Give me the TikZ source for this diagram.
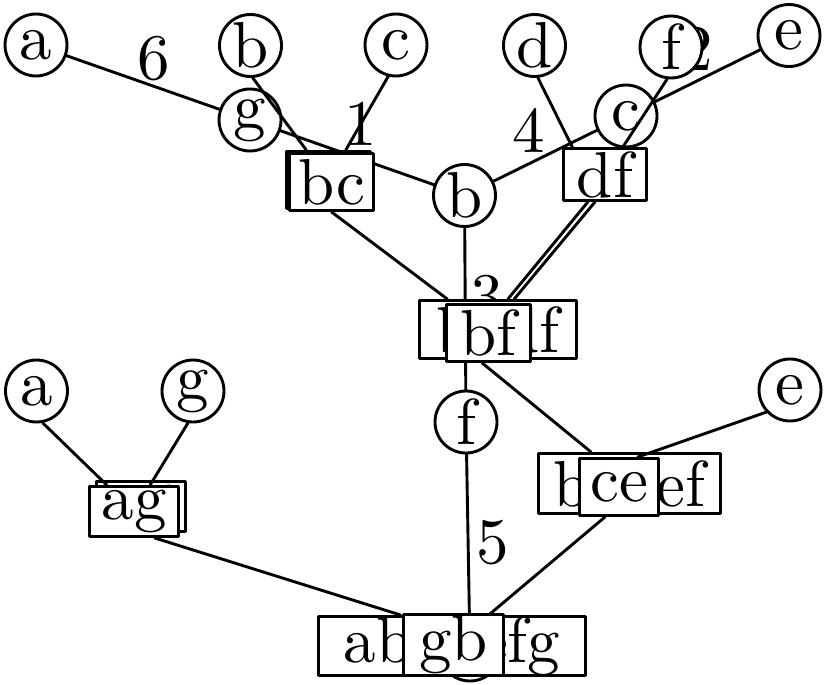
\documentclass[tikz,border=0pt]{standalone}
\usepackage{fontspec}
\setmainfont{lmroman10-regular.otf}
\newcommand{\treefont}{\fontsize{65}{78}\selectfont}
\begin{document}
\begin{tikzpicture}[x=1pt, y=-1pt, line cap=round, line join=round, line width=2.9pt]

			\tikzset{
				vtx/.style={circle, draw, fill=white, minimum size=62pt, inner sep=0pt, font=\treefont},
				bag/.style={rectangle, draw, fill=white, inner sep=0pt, font=\treefont},
				wt/.style={inner sep=0pt, font=\treefont},
			}

			\useasboundingbox (0,0) rectangle (827,685);

			% --- Back: weighted graph
			\node[vtx] (a1) at (36,45) {a};
			\node[vtx] (e1) at (789,35.5) {e};
			\node[vtx] (g1) at (250,120) {g};
			\node[vtx] (c2) at (626,116) {c};
			\node[vtx] (b2) at (464.5,195.5) {b};
			\node[vtx] (f3) at (466,422) {f};
			\node[vtx] (x4) at (470,650) {};

			\draw (a1) -- (g1);
			\draw (g1) -- (b2);
			\draw (b2) -- (c2);
			\draw (c2) -- (e1);
			\draw (b2) -- (f3);
			\draw (f3) -- (x4);

			\node[wt] (w6) at (153.5,58.5) {6};
			\node[wt] (w1) at (361,124) {1};
			\node[wt] (w4) at (529,130) {4};
			\node[wt] (w2) at (697,49) {2};
			\node[wt] (w3) at (487,298) {3};
			\node[wt] (w5) at (493,543) {5};

			% --- Front: leaves
			\node[vtx] (b1) at (250.5,45.5) {b};
			\node[vtx] (c1) at (396,45) {c};
			\node[vtx] (d1) at (534.5,45.5) {d};
			\node[vtx] (f1) at (671,47) {f};
			\node[vtx] (a3) at (36.5,391) {a};
			\node[vtx] (g3) at (193,391) {g};
			\node[vtx] (e3) at (790,390) {e};

			% --- Front: bags (back copy first, then front copy)
			\node[bag, minimum width=84pt, minimum height=57pt] (bcA) at (328.5,180) {bc};
			\node[bag, minimum width=84pt, minimum height=57pt] (bcB) at (331.5,182) {bc};
			\node[bag, minimum width=83pt, minimum height=52pt] (df) at (605,174.5) {df};
			\node[bag, minimum width=157pt, minimum height=58pt] (bcdf) at (498,329.5) {bcdf};
			\node[bag, minimum width=84pt, minimum height=57pt] (bf) at (488.5,333) {bf};
			\node[bag, minimum width=182pt, minimum height=60pt] (bcdef) at (629.5,483.5) {bcdef};
			\node[bag, minimum width=79pt, minimum height=57pt] (ce) at (619,487) {ce};
			\node[bag, minimum width=89pt, minimum height=50pt] (agB) at (141,506.5) {ag};
			\node[bag, minimum width=89pt, minimum height=50pt] (agA) at (134,511.5) {ag};
			\node[bag, minimum width=267pt, minimum height=59pt] (abcdefg) at (452,646) {abcdefg};
			\node[bag, minimum width=100pt, minimum height=61pt] (gb) at (453.5,645) {gb};

			% --- Front: tree links
			\draw (b1.274) -- (bcA);
			\draw (c1.256) -- (bcA);
			\draw (d1.276) -- (df.140);
			\draw (f1.263) -- (df);
			\draw (bcB.south) -- (bcdf.149);
			\draw (df.238) -- (bcdf.72);
			\draw (df.250) -- (bcdf.62);
			\draw (bf.258) -- (bcdef);
			\draw (e3.223) -- (ce.58);
			\draw (ce.245) -- (abcdefg);
			\draw (a3.281) -- (agA);
			\draw (g3.261) -- (agA);
			\draw (agA.-52) -- (abcdefg.149);

		\end{tikzpicture}
\end{document}
